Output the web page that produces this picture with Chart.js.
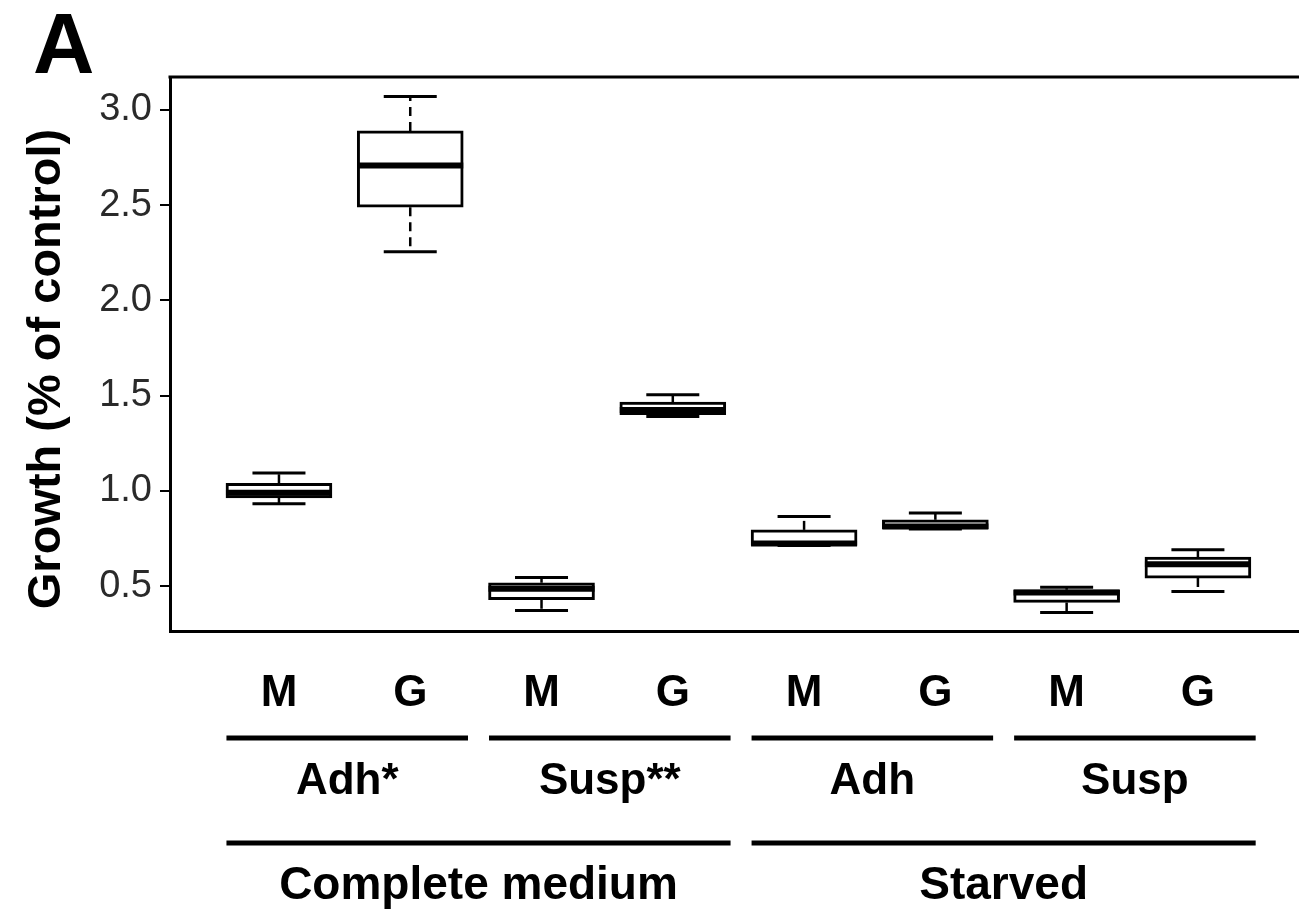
<!DOCTYPE html>
<html>
<head>
<meta charset="utf-8">
<script src="https://cdn.jsdelivr.net/npm/chart.js@4/dist/chart.umd.min.js"></script>
<style>
  html, body { margin: 0; padding: 0; background: #fff; overflow: hidden; }
  #wrap { width: 1299px; height: 914px; }
</style>
</head>
<body>
<div id="wrap"><canvas id="boxChart"></canvas></div>
<script>
// dados
const categorias = ['M', 'G', 'M', 'G', 'M', 'G', 'M', 'G'];
const grupos = ['Adh*', 'Susp**', 'Adh', 'Susp'];
const condicoes = ['Complete medium', 'Starved'];
const yTicks = [0.5, 1.0, 1.5, 2.0, 2.5, 3.0];

const whiskerLow  = [0.932, 2.256, 0.372, 1.390, 0.713, 0.800, 0.361, 0.472];
const q1          = [0.963, 2.489, 0.428, 1.400, 0.713, 0.800, 0.414, 0.542];
const mediana     = [0.990, 2.708, 0.486, 1.425, 0.724, 0.813, 0.466, 0.615];
const q3          = [1.040, 2.890, 0.517, 1.466, 0.795, 0.848, 0.480, 0.652];
const whiskerHigh = [1.094, 3.070, 0.545, 1.504, 0.865, 0.883, 0.494, 0.690];

const fonte = '"Liberation Sans", Arial, sans-serif';

const boxPlugin = {
  id: 'boxPlugin',
  afterDatasetsDraw(chart) {
    const ctx = chart.ctx;
    const ys = chart.scales.y;
    const meta = chart.getDatasetMeta(0);
    ctx.save();
    ctx.strokeStyle = '#000';
    meta.data.forEach((bar, i) => {
      const xc = bar.x;
      const half = bar.width / 2;
      // bigodes tracejados
      ctx.lineWidth = 2.5;
      ctx.setLineDash([9, 6]);
      ctx.beginPath();
      ctx.moveTo(xc, ys.getPixelForValue(q3[i]));
      ctx.lineTo(xc, ys.getPixelForValue(whiskerHigh[i]));
      ctx.moveTo(xc, ys.getPixelForValue(q1[i]));
      ctx.lineTo(xc, ys.getPixelForValue(whiskerLow[i]));
      ctx.stroke();
      ctx.setLineDash([]);
      // pontas
      ctx.lineWidth = 3;
      ctx.beginPath();
      ctx.moveTo(xc - half / 2, ys.getPixelForValue(whiskerHigh[i]));
      ctx.lineTo(xc + half / 2, ys.getPixelForValue(whiskerHigh[i]));
      ctx.moveTo(xc - half / 2, ys.getPixelForValue(whiskerLow[i]));
      ctx.lineTo(xc + half / 2, ys.getPixelForValue(whiskerLow[i]));
      ctx.stroke();
      // mediana
      ctx.lineWidth = 6;
      ctx.beginPath();
      ctx.moveTo(xc - half, ys.getPixelForValue(mediana[i]));
      ctx.lineTo(xc + half, ys.getPixelForValue(mediana[i]));
      ctx.stroke();
    });
    ctx.restore();
  },
  afterDraw(chart) {
    const ctx = chart.ctx;
    const xs = chart.scales.x;
    const area = chart.chartArea;
    ctx.save();
    ctx.strokeStyle = '#000';
    ctx.fillStyle = '#000';
    // moldura superior
    ctx.lineWidth = 3;
    ctx.beginPath();
    ctx.moveTo(area.left - 1.5, area.top);
    ctx.lineTo(area.right, area.top);
    ctx.stroke();

    // linhas e nomes dos grupos
    ctx.lineWidth = 5;
    ctx.textAlign = 'center';
    ctx.textBaseline = 'alphabetic';
    ctx.font = 'bold 44px ' + fonte;
    grupos.forEach((g, k) => {
      const a = xs.getPixelForValue(2 * k + 1 - 0.4);
      const b = xs.getPixelForValue(2 * k + 2 + 0.44);
      ctx.beginPath();
      ctx.moveTo(a, area.bottom + 107);
      ctx.lineTo(b, area.bottom + 107);
      ctx.stroke();
      ctx.fillText(g, (a + b) / 2, area.bottom + 163);
    });
    ctx.font = 'bold 46px ' + fonte;
    condicoes.forEach((c, k) => {
      const a = xs.getPixelForValue(4 * k + 1 - 0.4);
      const b = xs.getPixelForValue(4 * k + 4 + 0.44);
      ctx.beginPath();
      ctx.moveTo(a, area.bottom + 212);
      ctx.lineTo(b, area.bottom + 212);
      ctx.stroke();
      ctx.fillText(c, (a + b) / 2, area.bottom + 268);
    });

    // titulo do eixo y
    ctx.save();
    ctx.translate(60, 369);
    ctx.rotate(-Math.PI / 2);
    ctx.font = 'bold 47px ' + fonte;
    ctx.fillText('Growth (% of control)', 0, 0);
    ctx.restore();

    // letra do painel
    ctx.textAlign = 'left';
    ctx.font = 'bold 85px ' + fonte;
    ctx.fillText('A', 33, 73);
    ctx.restore();
  }
};

const ctx = document.getElementById('boxChart');

new Chart(ctx, {
  type: 'bar',
  data: {
    datasets: [{
      label: 'Growth',
      data: categorias.map((c, i) => ({ x: i + 1, y: [q1[i], q3[i]] })),
      backgroundColor: '#fff',
      borderColor: '#000',
      borderWidth: 3,
      borderSkipped: false,
      barThickness: 106
    }]
  },
  options: {
    responsive: true,
    maintainAspectRatio: false,
    animation: false,
    layout: { padding: { top: 77, left: 0, right: 0, bottom: 0 } },
    plugins: {
      legend: { display: false },
      tooltip: { enabled: false }
    },
    scales: {
      x: {
        type: 'linear',
        min: 0.17,
        max: 8.77,
        offset: false,
        afterBuildTicks: (s) => { s.ticks = categorias.map((c, i) => ({ value: i + 1 })); },
        afterFit: (s) => { s.height = 283; },
        grid: { display: false, drawTicks: false, offset: false },
        border: { display: true, color: '#000', width: 3 },
        ticks: {
          autoSkip: false,
          maxRotation: 0,
          padding: 36,
          color: '#000',
          font: { family: fonte, size: 44, weight: 'bold' },
          callback: (v) => categorias[v - 1]
        }
      },
      y: {
        min: 0.264,
        max: 3.173,
        afterBuildTicks: (s) => { s.ticks = yTicks.map(v => ({ value: v })); },
        afterFit: (s) => { s.width = 170; },
        grid: { drawOnChartArea: false, tickLength: 10, color: '#000', lineWidth: 2 },
        border: { display: true, color: '#000', width: 3 },
        ticks: {
          padding: 8,
          color: '#2a2a2a',
          font: { family: fonte, size: 38 },
          callback: (v) => v.toFixed(1)
        }
      }
    }
  },
  plugins: [boxPlugin]
});
</script>
</body>
</html>
